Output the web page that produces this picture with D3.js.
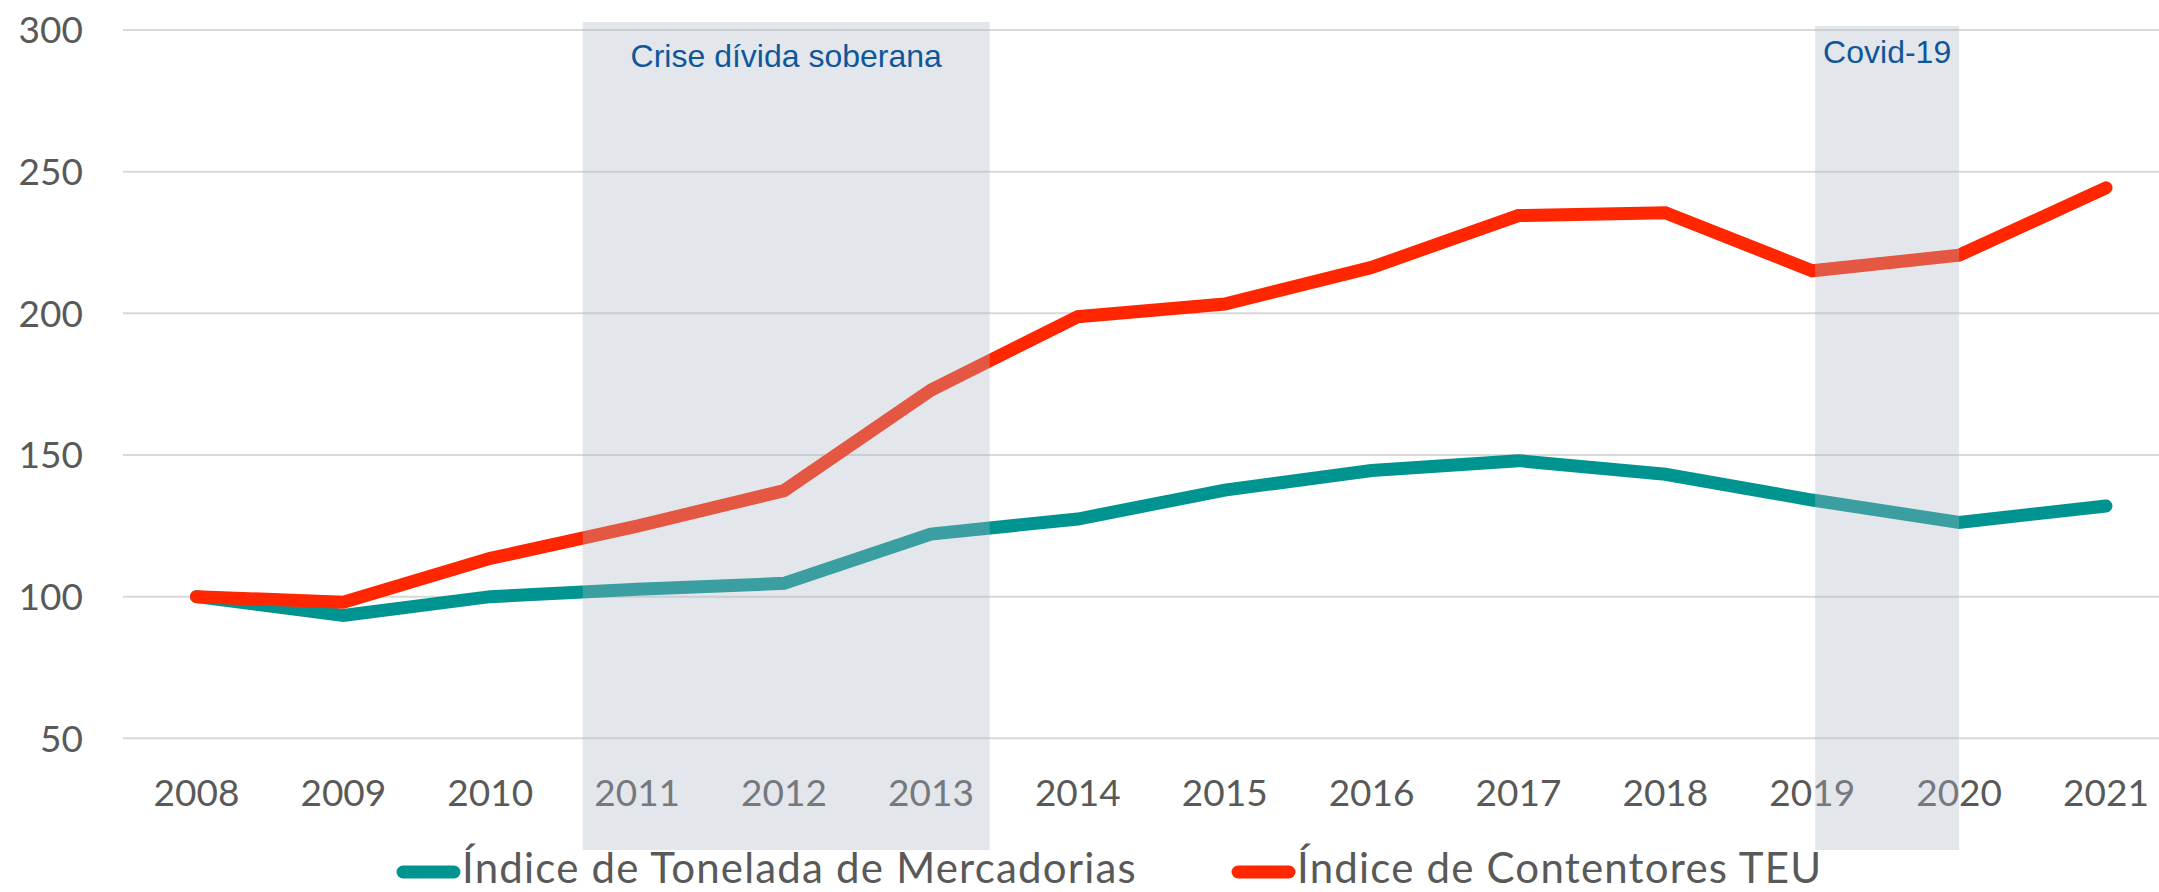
<!DOCTYPE html>
<html>
<head>
<meta charset="utf-8">
<script src="https://cdn.jsdelivr.net/npm/d3@7"></script>
<style>
  html, body { margin: 0; padding: 0; background: #fff; }
  svg { display: block; }
</style>
</head>
<body>
<div id="chart"></div>
<script>
// data
const years = [2008, 2009, 2010, 2011, 2012, 2013, 2014, 2015, 2016, 2017, 2018, 2019, 2020, 2021];
const toneladas = [100, 93.4, 100, 102.6, 104.7, 122.1, 127.4, 137.6, 144.5, 148.0, 143.2, 134.1, 126.2, 132.0];
const contentores = [100, 98.0, 113.5, 124.9, 137.4, 172.9, 198.8, 203.3, 216.2, 234.5, 235.5, 215.0, 220.5, 244.3];
const seriesNames = ["Índice de Tonelada de Mercadorias", "Índice de Contentores TEU"];
const yTicks = [50, 100, 150, 200, 250, 300];
const bandNames = ["Crise dívida soberana", "Covid-19"];
const bandStart = [2010.63, 2019.02];
const bandEnd = [2013.40, 2020.0];

const width = 2159, height = 892;
const colors = ["#009490", "#FF2600"];
const font = "Lato, 'Open Sans', sans-serif";

const svg = d3.select("#chart")
    .append("svg")
    .attr("width", width)
    .attr("height", height);

// scales
const x = d3.scaleLinear().domain([2008, 2021]).range([196.5, 2106]);
const y = d3.scaleLinear().domain([50, 300]).range([738.3, 30]);

// gridlines
svg.append("g")
    .selectAll("line")
    .data(yTicks)
    .join("line")
    .attr("x1", 123)
    .attr("x2", width)
    .attr("y1", d => y(d))
    .attr("y2", d => y(d))
    .attr("stroke", "#D9D9D9")
    .attr("stroke-width", 2);

// y labels
svg.append("g")
    .selectAll("text")
    .data(yTicks)
    .join("text")
    .attr("x", 83)
    .attr("y", d => y(d))
    .attr("dy", "0.36em")
    .attr("text-anchor", "end")
    .style("font-family", font)
    .style("font-size", "37px")
    .style("fill", "#595959")
    .text(d => d);

// x labels
svg.append("g")
    .selectAll("text")
    .data(years)
    .join("text")
    .attr("x", d => x(d))
    .attr("y", 806)
    .attr("text-anchor", "middle")
    .style("font-family", font)
    .style("font-size", "37px")
    .style("fill", "#595959")
    .text(d => d);

// lines
const line = d3.line()
    .x((d, i) => x(years[i]))
    .y(d => y(d));

[toneladas, contentores].forEach((vals, k) => {
    svg.append("path")
        .datum(vals)
        .attr("d", line)
        .attr("fill", "none")
        .attr("stroke", colors[k])
        .attr("stroke-width", 13)
        .attr("stroke-linecap", "round")
        .attr("stroke-linejoin", "miter");
});

// shaded periods, drawn over everything
const bands = bandNames.map((name, i) => ({ name, start: bandStart[i], end: bandEnd[i] }));
const bandTop = [22, 26];
svg.append("g")
    .selectAll("rect")
    .data(bands)
    .join("rect")
    .attr("x", d => x(d.start))
    .attr("width", d => x(d.end) - x(d.start))
    .attr("y", (d, i) => bandTop[i])
    .attr("height", (d, i) => 850 - bandTop[i])
    .attr("fill", "rgb(173,182,197)")
    .attr("fill-opacity", 0.34);

svg.append("g")
    .selectAll("text")
    .data(bands)
    .join("text")
    .attr("x", d => (x(d.start) + x(d.end)) / 2)
    .attr("y", (d, i) => [66.5, 63][i])
    .attr("text-anchor", "middle")
    .style("font-family", "'Liberation Sans', Arial, sans-serif")
    .style("font-size", "32px")
    .style("fill", "#10579A")
    .text(d => d.name);

// legend
const legendX = [397, 1232];
const legend = svg.append("g");
seriesNames.forEach((name, i) => {
    legend.append("line")
        .attr("x1", legendX[i] + 6)
        .attr("x2", legendX[i] + 57)
        .attr("y1", 872)
        .attr("y2", 872)
        .attr("stroke", colors[i])
        .attr("stroke-width", 13)
        .attr("stroke-linecap", "round");
    legend.append("text")
        .attr("x", legendX[i] + 65)
        .attr("y", 883)
        .style("font-family", font)
        .style("font-size", "42px")
        .style("letter-spacing", "1.2px")
        .style("fill", "#595959")
        .text(name);
});
</script>
</body>
</html>
